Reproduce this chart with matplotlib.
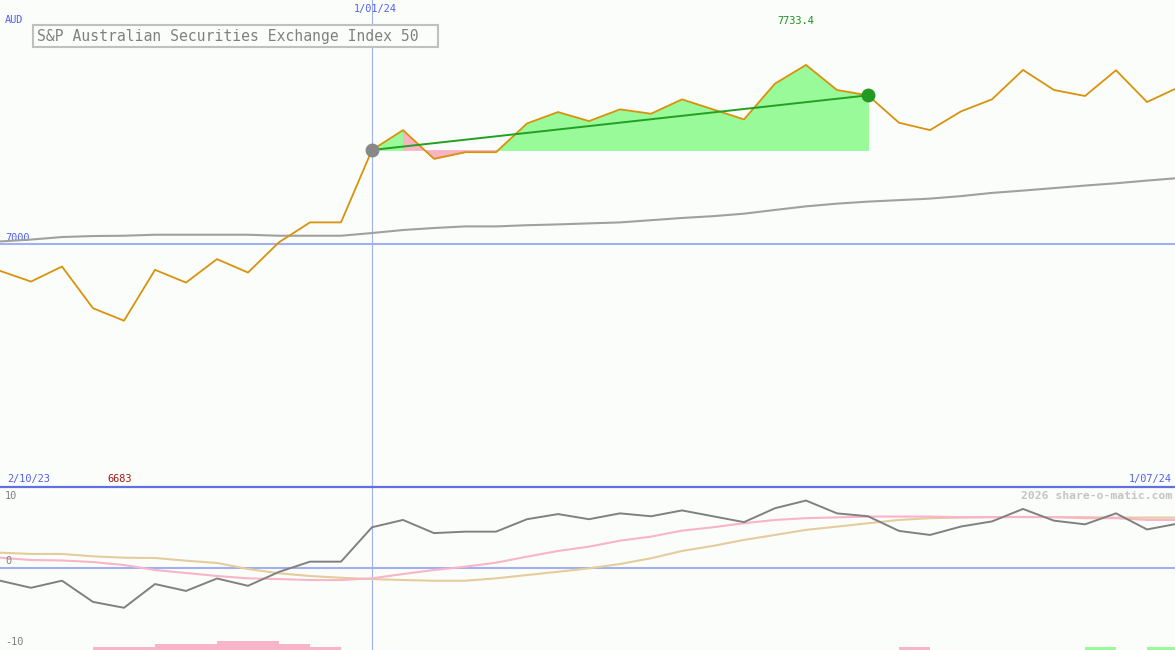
import matplotlib
matplotlib.use("Agg")
import matplotlib.pyplot as plt
from matplotlib.patches import Rectangle
import numpy as np

# ---------------- data ----------------
weeks = list(range(39))  # weekly points from 2/10/23
price = [6887.7, 6843.6, 6905.4, 6734.0, 6683.0, 6891.8, 6839.5, 6935.9, 6880.7, 7005.1,
         7086.7, 7086.7, 7384.0, 7465.6, 7347.8, 7375.0, 7375.0, 7493.0, 7539.8, 7502.7,
         7550.9, 7533.0, 7592.0, 7550.9, 7509.7, 7656.7, 7733.4, 7630.4, 7608.5, 7496.0,
         7465.6, 7542.6, 7592.0, 7712.8, 7630.4, 7605.7, 7711.5, 7581.0, 7640.3]
ma_long = [7008.4, 7016.2, 7026.5, 7030.7, 7031.9, 7036.0, 7036.0, 7036.0, 7036.0, 7031.9,
           7031.9, 7031.9, 7043.0, 7055.4, 7063.6, 7070.2, 7070.2, 7075.1, 7078.4, 7082.6,
           7086.7, 7095.7, 7104.8, 7112.2, 7122.5, 7137.8, 7152.6, 7163.7, 7172.0, 7178.1,
           7184.3, 7194.6, 7207.8, 7217.3, 7227.6, 7237.9, 7247.3, 7258.4, 7268.7]
osc = [-1.8, -2.77, -1.8, -4.7, -5.5, -2.26, -3.2, -1.5, -2.5, -0.6,
       0.8, 0.8, 5.5, 6.5, 4.7, 4.9, 4.9, 6.6, 7.3, 6.6,
       7.4, 7.0, 7.8, 7.0, 6.2, 8.1, 9.15, 7.4, 7.0, 5.0,
       4.45, 5.6, 6.3, 8.0, 6.4, 5.9, 7.4, 5.2, 6.0]
osc_fast = [1.34, 1.03, 0.96, 0.75, 0.34, -0.34, -0.75, -1.16, -1.48, -1.58,
            -1.71, -1.71, -1.48, -0.89, -0.34, 0.11, 0.66, 1.48, 2.26, 2.85,
            3.67, 4.22, 5.04, 5.5, 6.05, 6.5, 6.74, 6.85, 6.96, 6.96,
            6.96, 6.88, 6.88, 6.88, 6.88, 6.74, 6.74, 6.5, 6.5]
osc_slow = [2.03, 1.85, 1.85, 1.53, 1.34, 1.3, 0.93, 0.62, -0.2, -0.79,
            -1.16, -1.4, -1.58, -1.71, -1.81, -1.81, -1.48, -1.03, -0.58, -0.11,
            0.48, 1.26, 2.26, 2.95, 3.77, 4.45, 5.14, 5.59, 6.05, 6.5,
            6.74, 6.82, 6.88, 6.92, 6.88, 6.88, 6.82, 6.82, 6.82]
hist_weeks = [3, 4, 5, 6, 7, 8, 9, 10, 29, 35, 37]
hist_vals = [-1, -1, -2, -2, -3, -3, -2, -1, -1, 1, 1]

trend_start = 12   # 1/01/24
trend_end = 28
max_label = "7733.4"
min_label = "6683"

# ---------------- style ----------------
W, H = 1175, 650
BG = "#fbfdfb"
BLUE = "#a0b0f0"
BLUE_D = "#6070e0"
TXT_BLUE = "#5060f0"
MONO = "DejaVu Sans Mono"

fig = plt.figure(figsize=(W / 100, H / 100), dpi=100, facecolor=BG)
split = 487
ax = fig.add_axes([0, (H - split) / H, 1, split / H])
bx = fig.add_axes([0, 0, 1, (H - split) / H])
for a in (ax, bx):
    a.set_facecolor(BG)
    a.set_axis_off()
    a.set_xlim(0, W / 31.0)

ax.set_ylim(6000, 8000)
bx.set_ylim(-11.27, 11.0)

x = np.array(weeks, dtype=float)
p = np.array(price)

# main panel
ax.axhline(7000, color=BLUE, lw=1.5, zorder=1)
ax.axvline(trend_start, color=BLUE, lw=0.8, zorder=1)
ax.plot(x, ma_long, color="#a0a0a0", lw=1.5, zorder=2)

base = p[trend_start]
for i in range(trend_start, trend_end):
    c = "#98fa98" if p[i + 1] >= base else "#f8b4c4"
    ax.fill_between(x[i:i + 2], p[i:i + 2], base, facecolor=c, edgecolor=c,
                    lw=0.6, zorder=2)
ax.plot(x, p, color="#d8920c", lw=1.3, zorder=3)
ax.plot([trend_start, trend_end], [p[trend_start], p[trend_end]],
        color="#22a022", lw=1.4, zorder=4)
ax.plot([trend_start], [p[trend_start]], "o", ms=9, color="#888888", zorder=5)
ax.plot([trend_end], [p[trend_end]], "o", ms=9, color="#229922", zorder=5)

# separator
fig.add_artist(plt.Line2D([0, 1], [(H - split) / H] * 2, color=BLUE_D, lw=1.6))

# bottom panel
bx.axhline(0, color=BLUE, lw=1.5, zorder=1)
bx.axvline(trend_start, color=BLUE, lw=0.8, zorder=1)
bx.plot(x, osc_slow, color="#e4cc9c", lw=1.5, zorder=2)
bx.plot(x, osc_fast, color="#f8b4c8", lw=1.5, zorder=2)
bx.plot(x, osc, color="#808080", lw=1.4, zorder=3)
ylo = -11.27
for w, v in zip(hist_weeks, hist_vals):
    c = "#f8b4c8" if v < 0 else "#98fa98"
    bx.bar(w, abs(v) * 0.41, width=1.0, bottom=ylo, align="edge", color=c, lw=0, zorder=2)


def ptext(px, py, s, **kw):
    fig.text(px / W, 1 - py / H, s, family=MONO, va="center", **kw)


ptext(5, 20, "AUD", color=TXT_BLUE, fontsize=7.4)
ptext(375, 9, "1/01/24", color=TXT_BLUE, fontsize=7.4, ha="center")
ptext(796, 21, max_label, color="#209020", fontsize=7.4, ha="center")
ax.text(5 / 31.0, 7000 + 5 * 4.107, "7000", family=MONO, color=TXT_BLUE,
        fontsize=7.4, va="center", ha="left", zorder=1.5)
ptext(7, 479, "2/10/23", color=TXT_BLUE, fontsize=7.4)
ptext(107, 479, min_label, color="#a01818", fontsize=7.4)
ptext(1172, 479, "1/07/24", color=TXT_BLUE, fontsize=7.4, ha="right")
ptext(1172, 496, "2026 share-o-matic.com", color="#c4c4c4", fontsize=8.2,
      ha="right", fontweight="bold")
ptext(5, 496, "10", color="#808080", fontsize=7.4)
ptext(5, 561, "0", color="#808080", fontsize=7.4)
ptext(5, 642, "-10", color="#808080", fontsize=7.4)

# title box
fig.add_artist(Rectangle((33 / W, 1 - 47 / H), (438 - 33) / W, 22 / H,
                         transform=fig.transFigure, facecolor=BG,
                         edgecolor="#c0c0c0", lw=1.5, zorder=10))
t = fig.text(37 / W, 1 - 36.5 / H, "S&P Australian Securities Exchange Index 50",
             family=MONO, color="#808080", fontsize=10.6, va="center", zorder=11)

fig.savefig("out.png", dpi=100, facecolor=BG)
